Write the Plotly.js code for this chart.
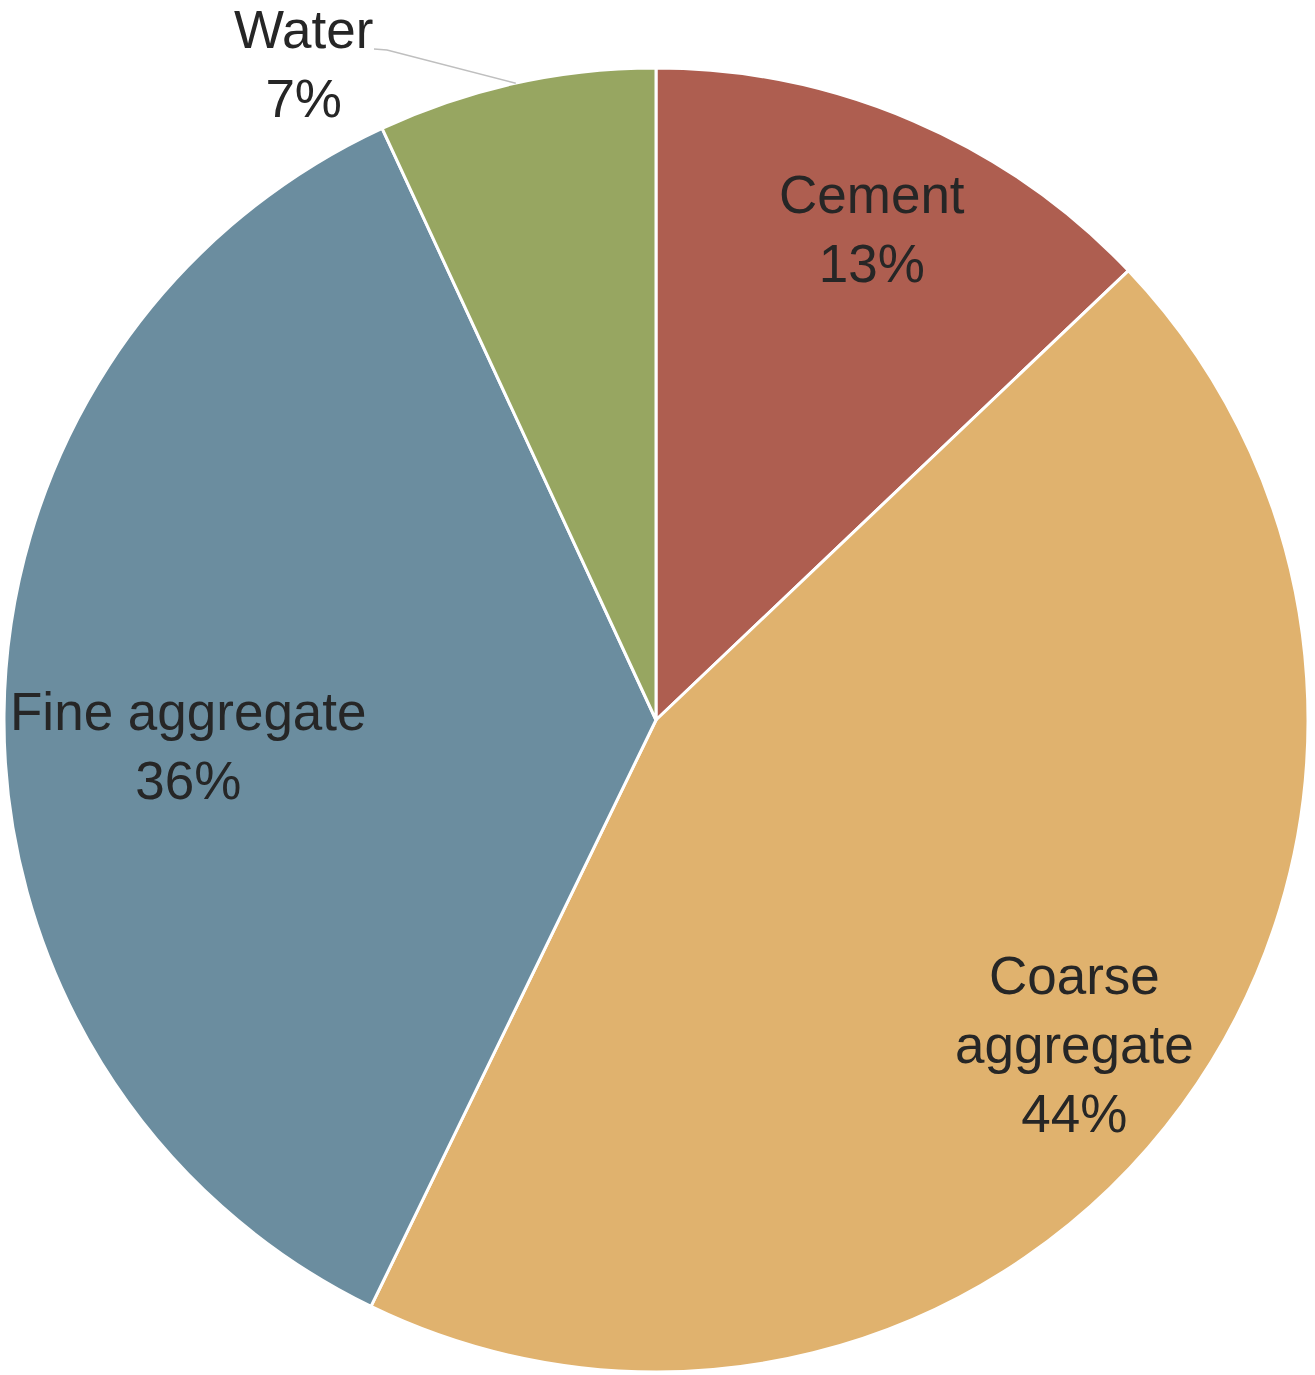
<!DOCTYPE html>
<html>
<head>
<meta charset="utf-8">
<script src="https://cdn.plot.ly/plotly-3.0.1.min.js"></script>
<style>html,body{margin:0;padding:0;background:#fff;}#chart{width:1315px;height:1375px;}</style>
</head>
<body>
<div id="chart"></div>
<script>
const categories = ['Cement', 'Coarse aggregate', 'Fine aggregate', 'Water'];
const shares = [12.9, 44.3, 35.9, 6.9];
const labelLines = [['Cement'], ['Coarse', 'aggregate'], ['Fine aggregate'], ['Water']];
const sliceColors = ['#AE5E50', '#E0B26E', '#6B8D9F', '#97A661'];

// label placement style (fraction of radius along slice bisector, pixel nudges)
const labelRadius = [0.825, 0.813, 0.717, null];
const labelShiftX = [4, -9, 0, 0];
const labelShiftY = [-3, -12, -30, 0];

const W = 1315, H = 1375;
const margin = {l: 4, r: 7, t: 68, b: 3};
const FONT = {family: 'Liberation Sans, Arial, sans-serif', size: 53, color: '#262626'};
const total = shares.reduce((a, b) => a + b, 0);
const pw = W - margin.l - margin.r, ph = H - margin.t - margin.b;
const px = v => (v - margin.l) / pw;
const py = v => (H - margin.b - v) / ph;

const annotations = [];
let cum = 0;
const mids = shares.map(v => { const m = (cum + v / 2) / total; cum += v; return m * 2 * Math.PI; });
shares.forEach((v, i) => {
  const txt = labelLines[i].concat([Math.round(v / total * 100) + '%']).join('<br>');
  if (labelRadius[i] !== null) {
    const r = labelRadius[i] * 0.5;
    annotations.push({
      xref: 'paper', yref: 'paper',
      x: 0.5 + r * Math.sin(mids[i]), y: 0.5 + r * Math.cos(mids[i]),
      xshift: labelShiftX[i], yshift: labelShiftY[i],
      text: txt, showarrow: false, font: FONT,
      xanchor: 'center', yanchor: 'middle'
    });
  } else {
    annotations.push({
      xref: 'paper', yref: 'paper',
      x: px(303), y: py(64),
      text: txt, showarrow: false, font: FONT,
      xanchor: 'center', yanchor: 'middle'
    });
  }
});

// leader line for the outside (Water) label, ending on the slice edge at its bisector
const ex = 0.5 + 0.5 * Math.sin(mids[3]);
const ey = 0.5 + 0.5 * Math.cos(mids[3]);

const trace = {
  type: 'pie',
  labels: categories,
  values: shares,
  sort: false,
  direction: 'clockwise',
  rotation: 0,
  marker: {colors: sliceColors, line: {color: '#FFFFFF', width: 3}},
  textinfo: 'none',
  hoverinfo: 'none',
  showlegend: false
};

const layout = {
  width: W, height: H,
  margin: margin,
  paper_bgcolor: '#FFFFFF',
  showlegend: false,
  annotations: annotations,
  shapes: [{
    type: 'path', xref: 'paper', yref: 'paper',
    path: 'M ' + px(374) + ',' + py(49) + ' L ' + px(387) + ',' + py(50) + ' L ' + ex + ',' + ey,
    line: {color: '#BFBFBF', width: 1.5}
  }]
};

Plotly.newPlot('chart', [trace], layout, {displayModeBar: false, staticPlot: true});
</script>
</body>
</html>
